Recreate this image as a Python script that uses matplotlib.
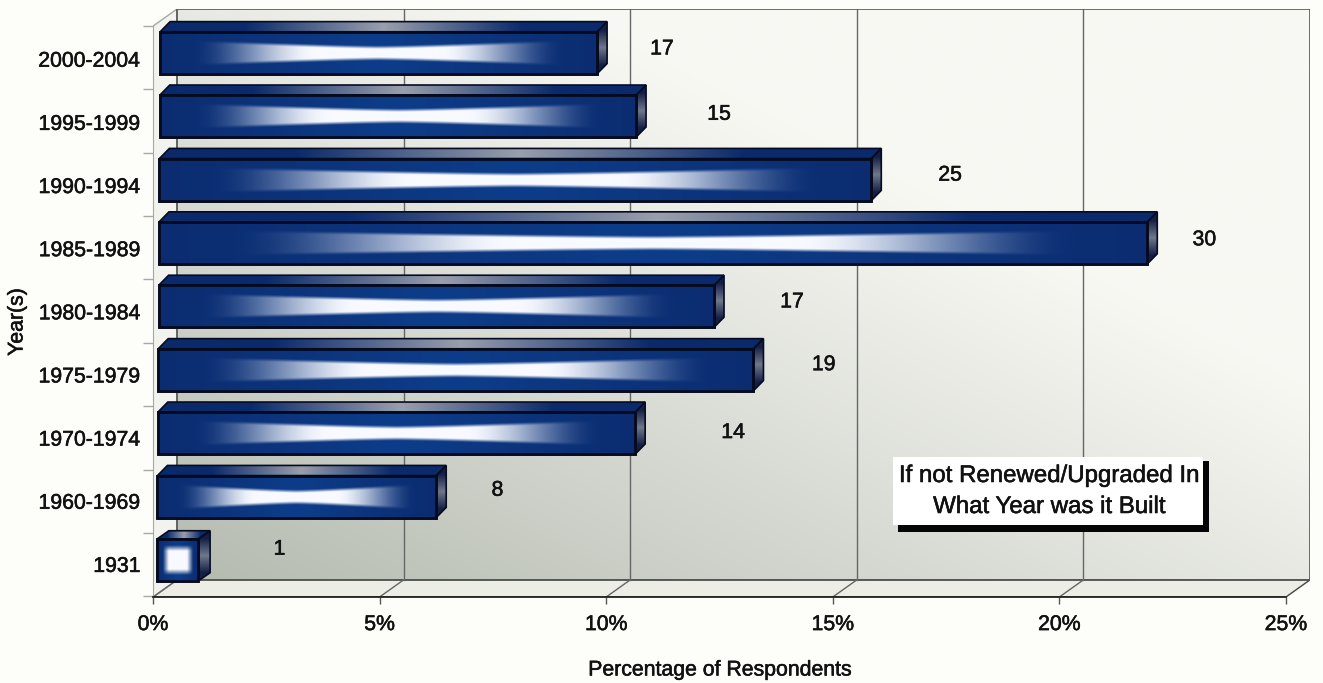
# Import libraries
# -----------------
import numpy as np
import matplotlib.pyplot as plt
import matplotlib.patheffects as pe
from matplotlib.colors import to_rgb
from matplotlib.patches import Polygon, Rectangle
from matplotlib.text import Text

# Data
# -----------------
years = ['1931', '1960-1969', '1970-1974', '1975-1979', '1980-1984',
         '1985-1989', '1990-1994', '1995-1999', '2000-2004']
percent = [1.0, 6.25, 10.64, 13.25, 12.38, 21.94, 15.85, 10.66, 9.8]
respondents = [1, 8, 14, 19, 17, 30, 25, 15, 17]
x_ticks = [0, 5, 10, 15, 20, 25]
x_labels = ['0%', '5%', '10%', '15%', '20%', '25%']

# Layout
# -----------------
W, H = 1323, 683
label_gap = [1.79, 1.35, 2.16, 1.55, 1.72, 1.26, 1.74, 1.83, 1.43]
label_lift = [0.17, 0.10, 0.01, 0.08, 0.07, 0.05, 0.07, 0.03, 0.06]
ybot, ytop = -0.584, 8.69
dx, dy = 0.53, 0.27      # depth of the chart box
bar_h = 0.662
FONT = 'Liberation Sans'
FS = 15.3

plt.rcParams['font.family'] = FONT


def px(x, y):
    return x / W, 1 - y / H


def lerp(a, b, t):
    a, b = np.array(to_rgb(a)), np.array(to_rgb(b))
    return a + (b - a) * t[..., None]


def bar_shade(square=False, nx=320, ny=60):
    U, V = np.meshgrid(np.abs(np.linspace(-1, 1, nx)), np.abs(np.linspace(-1, 1, ny)))
    if square:
        fade = np.clip((0.72 - U) / 0.28, 0, 1)
        mask = np.clip((0.72 - V) / 0.28, 0, 1)
    else:
        fade = np.clip((0.86 - U) / 0.58, 0, 1)
        fade = fade * fade * (3 - 2 * fade)
        half = 0.36 + 0.36 * U ** 1.3
        mask = np.clip((half - V) / 0.16, 0, 1)
    base = lerp('#0b2c70', '#0d3d8a', np.clip(1 - U, 0, 1))
    t = (fade * mask)[..., None]
    return base * (1 - t) + np.array(to_rgb('#f8faff')) * t


def clipped(ax, rgb, extent, pts, z):
    poly = Polygon(pts, closed=True, transform=ax.transData, facecolor='none',
                   edgecolor='#060b22', linewidth=1.2, zorder=z + 0.1)
    ax.add_patch(poly)
    im = ax.imshow(rgb, extent=extent, aspect='auto', origin='lower', zorder=z,
                   interpolation='bilinear')
    im.set_clip_path(poly)


fig = plt.figure(figsize=(W / 100, H / 100), dpi=100, facecolor='#fdfdfa')
ax = fig.add_axes([153 / W, (H - 597) / H, 1157 / W, 588 / H])
ax.set_facecolor('none')

# Back wall, floor and side wall
# -----------------
U, V = np.meshgrid(np.linspace(0, 1, 200), np.linspace(0, 1, 200))
ax.imshow(lerp('#b5bbb1', '#f8f8f3', np.clip(0.75 * U + 0.75 * V, 0, 1)),
          extent=(dx, 25 + dx, ybot + dy, ytop), aspect='auto', origin='lower', zorder=0)
ax.add_patch(Polygon([(0, ybot), (25, ybot), (25 + dx, ybot + dy), (dx, ybot + dy)],
                     facecolor='#ecede5', edgecolor='#444444', linewidth=1.0, zorder=1))
ax.add_patch(Polygon([(0, ybot), (dx, ybot + dy), (dx, ytop), (0, ytop - dy)],
                     facecolor='#f2f3ec', edgecolor='#a8a8a2', linewidth=1.0, zorder=1))
ax.add_patch(Rectangle((dx, ybot + dy), 25, ytop - ybot - dy, facecolor='none',
                       edgecolor='#555555', linewidth=1.2, zorder=1))
for k in x_ticks[1:-1]:
    ax.plot([k + dx, k + dx], [ybot + dy, ytop], color='#666666', lw=1.0, zorder=1)
for k in x_ticks[:-1]:
    ax.plot([k, k + dx], [ybot, ybot + dy], color='#666666', lw=1.0, zorder=1)

# Bars
# -----------------
u = np.linspace(0, 1, 200)
top_rgb = lerp('#0a2a6c', '#9a9fac', np.clip(1 - np.abs(2 * u - 1) * 1.6, 0, 1))[None, :, :]
side_rgb = lerp('#141f45', '#70788c', np.clip(1 - np.abs(2 * u - 1) * 1.5, 0, 1))[:, None, :]
for i, (name, val) in enumerate(zip(years, percent)):
    left = 0.09 + 0.0085 * i
    y0, y1 = i - bar_h / 2, i + bar_h / 2
    ddx, ddy = (0.26, 0.13) if i == 0 else (0.22, 0.16)
    ax.barh(i, val - left, left=left, height=bar_h, color='#0a2a6c',
            edgecolor='#050a1e', linewidth=1.8, zorder=4)
    ax.imshow(bar_shade(square=(i == 0)), extent=(left, val, y0, y1), aspect='auto',
              origin='lower', zorder=4.05, interpolation='bilinear')
    ax.add_patch(Rectangle((left, y0), val - left, bar_h, facecolor='none',
                           edgecolor='#050a1e', linewidth=2.0, zorder=4.2))
    clipped(ax, top_rgb, (left, val + ddx, y1, y1 + ddy),
            [(left, y1), (val, y1), (val + ddx, y1 + ddy), (left + ddx, y1 + ddy)], 3.5)
    clipped(ax, side_rgb, (val, val + ddx, y0, y1 + ddy),
            [(val, y0), (val + ddx, y0 + ddy), (val + ddx, y1 + ddy), (val, y1)], 3.5)
    ax.text(val + label_gap[i], i + label_lift[i], str(respondents[i]), ha='center',
            va='center', fontsize=FS, color='#111111', zorder=6)

# Axes
# -----------------
ax.set_xlim(0, 25 + dx)
ax.set_ylim(ybot, ytop)
for s in ['top', 'right']:
    ax.spines[s].set_visible(False)
ax.spines['bottom'].set_bounds(0, 25)
ax.spines['bottom'].set_color('#222222')
ax.spines['bottom'].set_linewidth(1.3)
ax.spines['left'].set_bounds(ybot, ytop - dy)
ax.spines['left'].set_color('#a8a8a2')
ax.set_xticks(x_ticks)
ax.set_xticklabels(x_labels, fontsize=FS, color='#111111')
ax.tick_params(axis='x', length=5, width=1, color='#555555', pad=8)
ax.set_yticks([i * 0.996 - 0.07 for i in range(len(years))])
ax.set_yticklabels(years, fontsize=FS, color='#111111')
ax.tick_params(axis='y', which='major', length=0, pad=9)
ax.set_yticks([i - 0.575 for i in range(len(years) + 1)], minor=True)
ax.tick_params(axis='y', which='minor', length=7, width=1, color='#a8a8a2')

fig.text(*px(17, 322), 'Year(s)', rotation=90, ha='center', va='center', fontsize=FS, color='#111111')
fig.text(*px(720, 670), 'Percentage of Respondents', ha='center', va='center', fontsize=FS, color='#111111')

# Note box with its shadow
# -----------------
fig.add_artist(Rectangle(px(898, 532), 311 / W, 71 / H, transform=fig.transFigure,
                         facecolor='#050505', edgecolor='none', zorder=7))
fig.add_artist(Rectangle(px(893, 525), 310 / W, 68 / H, transform=fig.transFigure,
                         facecolor='white', edgecolor='none', zorder=8))
fig.text(*px(1049, 476), 'If not Renewed/Upgraded In', ha='center', va='center',
         fontsize=17.3, color='#111111', zorder=9)
fig.text(*px(1049, 507), 'What Year was it Built', ha='center', va='center',
         fontsize=17.3, color='#111111', zorder=9)

# the scanned text is a bit heavier than the plain font
for t in fig.findobj(Text):
    t.set_path_effects([pe.withStroke(linewidth=0.4, foreground='#111111')])

fig.savefig('out.png', dpi=100, facecolor=fig.get_facecolor())
